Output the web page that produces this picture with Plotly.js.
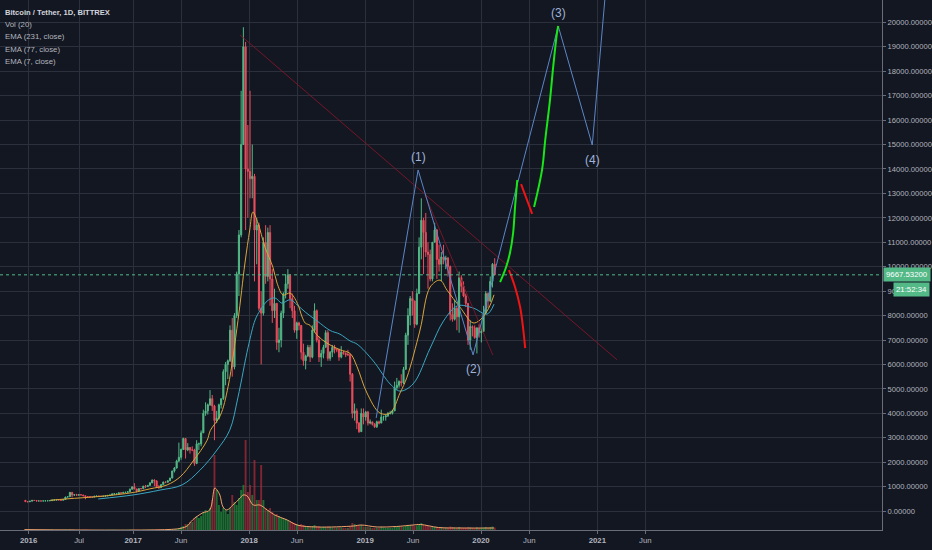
<!DOCTYPE html>
<html>
<head>
<meta charset="utf-8">
<script src="https://cdn.plot.ly/plotly-3.0.1.min.js"></script>
<style>
  html, body { margin: 0; padding: 0; background: #131722; }
  #chart { width: 932px; height: 550px; }
</style>
</head>
<body>
<div id="chart"></div>
<script>
// weekly candles, [open, high, low, close], weeks start 2016-01-25
const ohlc2016 = [
  [440, 450, 375, 385], [385, 400, 365, 380], [380, 408, 375, 405], [405, 445, 400, 438],
  [438, 442, 415, 432], [432, 440, 405, 412], [412, 420, 405, 415], [415, 420, 408, 412],
  [412, 418, 410, 416], [416, 424, 412, 420], [420, 424, 416, 421], [421, 430, 418, 427],
  [427, 452, 425, 450], [450, 468, 445, 455], [455, 465, 440, 460], [460, 462, 448, 455],
  [455, 458, 435, 442], [442, 475, 440, 472], [472, 580, 470, 575], [575, 595, 565, 585],
  [585, 780, 580, 765], [765, 770, 560, 660], [660, 690, 620, 670], [670, 705, 640, 650],
  [650, 680, 645, 665], [665, 680, 650, 660], [660, 660, 620, 625], [625, 628, 480, 590],
  [590, 600, 580, 585], [585, 590, 565, 578], [578, 585, 570, 575], [575, 612, 570, 605],
  [605, 630, 600, 610], [610, 612, 600, 608], [608, 612, 590, 600], [600, 612, 595, 610],
  [610, 620, 605, 617], [617, 645, 612, 640], [640, 660, 632, 655], [655, 720, 650, 700],
  [700, 740, 680, 705], [705, 740, 700, 705], [705, 755, 695, 745], [745, 755, 725, 735],
  [735, 770, 730, 765], [765, 775, 755, 770], [770, 795, 765, 790], [790, 925, 790, 890],
  [890, 1000, 885, 995]
];
const ohlc2017 = [
  [995, 1140, 890, 905], [905, 910, 760, 820], [820, 925, 815, 920], [920, 930, 890, 915],
  [915, 1030, 910, 1020], [1020, 1070, 940, 1000], [1000, 1060, 995, 1050], [1050, 1190, 1045, 1150],
  [1150, 1290, 1150, 1270], [1270, 1300, 1020, 1230], [1230, 1260, 940, 1000], [1000, 1060, 910, 960],
  [960, 1100, 955, 1080], [1080, 1200, 1075, 1190], [1190, 1210, 1140, 1180], [1180, 1250, 1170, 1240],
  [1240, 1360, 1235, 1350], [1350, 1650, 1340, 1640], [1640, 1800, 1580, 1760], [1760, 2100, 1740, 2050],
  [2050, 2800, 2000, 2200], [2200, 2560, 2100, 2520], [2520, 3000, 2500, 2970], [2970, 2990, 2150, 2500],
  [2500, 2780, 2450, 2600], [2600, 2620, 2350, 2500], [2500, 2650, 2450, 2500], [2500, 2550, 1850, 1950],
  [1950, 2900, 1920, 2750], [2750, 2800, 2500, 2750], [2750, 3300, 2650, 3200], [3200, 4150, 3200, 4000],
  [4000, 4450, 3900, 4100], [4100, 4400, 3950, 4350], [4350, 4950, 4300, 4600], [4600, 4750, 4100, 4300],
  [4300, 4350, 2900, 3700], [3700, 4100, 3600, 3800], [3800, 4400, 3750, 4350], [4350, 4600, 4200, 4600],
  [4600, 5800, 4550, 5700], [5700, 6100, 5150, 6000], [6000, 6200, 5400, 6150], [6150, 7600, 6100, 7400],
  [7400, 7900, 5500, 5900], [5900, 8100, 5800, 8000], [8000, 9800, 7900, 9700], [9700, 11500, 8800, 11300],
  [11300, 17200, 11200, 15000], [15000, 19800, 15000, 19000], [19000, 19200, 11500, 14000], [14000, 15800, 12000, 13900]
];
const ohlc2018 = [
  [13900, 17200, 12800, 13600], [13600, 15000, 12800, 13700], [13700, 13800, 9400, 11500], [11500, 12000, 10100, 11700],
  [11700, 11800, 8200, 8300], [8300, 9000, 6000, 8100], [8100, 11200, 8000, 11000], [11000, 11700, 9300, 9600],
  [9600, 11600, 9400, 11400], [11400, 11700, 8400, 9500], [9500, 9900, 7700, 8200], [8200, 9100, 7900, 8500],
  [8500, 8500, 6600, 6900], [6900, 7500, 6500, 7000], [7000, 8200, 6700, 8100], [8100, 8950, 7900, 8900],
  [8900, 9700, 8700, 9300], [9300, 9900, 9100, 9650], [9650, 9700, 8300, 8700], [8700, 8900, 7900, 8200],
  [8200, 8400, 7300, 7400], [7400, 7750, 7050, 7700], [7700, 7750, 7400, 7600], [7600, 7600, 6200, 6500],
  [6500, 6850, 5950, 6150], [6150, 6400, 5800, 6350], [6350, 6800, 6300, 6700], [6700, 6800, 6100, 6300],
  [6300, 7600, 6250, 7400], [7400, 8500, 7300, 8200], [8200, 8250, 6900, 7000], [7000, 7150, 6100, 6300],
  [6300, 6600, 5900, 6450], [6450, 6800, 6250, 6700], [6700, 7400, 6700, 7300], [7300, 7400, 6150, 6250],
  [6250, 6550, 6150, 6500], [6500, 6800, 6300, 6700], [6700, 6800, 6450, 6600], [6600, 6650, 6500, 6600],
  [6600, 6650, 6150, 6300], [6300, 6750, 6250, 6500], [6500, 6550, 6400, 6450], [6450, 6500, 6300, 6400],
  [6400, 6600, 6350, 6400], [6400, 6450, 5300, 5600], [5600, 5650, 3800, 4000], [4000, 4400, 3700, 4100],
  [4100, 4200, 3350, 3600], [3600, 3650, 3200, 3250], [3250, 4200, 3250, 4000], [4000, 4200, 3550, 3850],
  [3850, 4100, 3700, 4050]
];
const ohlc2019 = [
  [4050, 4100, 3500, 3600], [3600, 3750, 3550, 3650], [3650, 3650, 3500, 3550], [3550, 3600, 3400, 3450],
  [3450, 3700, 3400, 3650], [3650, 3700, 3550, 3600], [3600, 4150, 3600, 3850], [3850, 3900, 3700, 3850],
  [3850, 3950, 3700, 3900], [3900, 4050, 3850, 4000], [4000, 4100, 3950, 4000], [4000, 4150, 3950, 4100],
  [4100, 5300, 4100, 5050], [5050, 5450, 4950, 5150], [5150, 5350, 5050, 5300], [5300, 5600, 5100, 5250],
  [5250, 5900, 5200, 5800], [5800, 7300, 5800, 7200], [7200, 8300, 6800, 8000], [8000, 8800, 7600, 8700],
  [8700, 9000, 8000, 8600], [8600, 8600, 7500, 7650], [7650, 9100, 7600, 8900], [8900, 11200, 8900, 10800],
  [10800, 12800, 10300, 11900], [11900, 12000, 9700, 11400], [11400, 12200, 10400, 10600], [10600, 11000, 9100, 10500],
  [10500, 10700, 9400, 9500], [9500, 11000, 9400, 11000], [11000, 11800, 11000, 11500], [11500, 11550, 9500, 10300],
  [10300, 10900, 9800, 10100], [10100, 10600, 9400, 10400], [10400, 10900, 10100, 10300], [10300, 10450, 9900, 10350],
  [10350, 10400, 9600, 10000], [10000, 10050, 7800, 8050], [8050, 8500, 7750, 7850], [7850, 8650, 7800, 8300],
  [8300, 8400, 7400, 7950], [7950, 9800, 7300, 9550], [9550, 9650, 8950, 9200], [9200, 9400, 8750, 8800],
  [8800, 8900, 8350, 8500], [8500, 8500, 6800, 7000], [7000, 7800, 6600, 7550], [7550, 7600, 7150, 7500],
  [7500, 7600, 7050, 7100], [7100, 7500, 6450, 7500], [7500, 7650, 7100, 7300], [7300, 7500, 6900, 7350]
];
const ohlc2020 = [
  [7350, 8400, 7350, 8100], [8100, 9000, 8100, 8900], [8900, 8950, 8300, 8600],
  [8600, 9600, 8550, 9400], [9400, 10150, 9150, 10100], [10100, 10350, 9650, 9667.532]
];

// volume per week (M USDT, daily average)
const vol2016 = [0.4, 0.3, 0.3, 0.4, 0.3, 0.3, 0.2, 0.2, 0.2, 0.2, 0.2, 0.2, 0.3, 0.3, 0.2, 0.2, 0.2, 0.3, 0.5, 0.4,
  0.8, 0.9, 0.5, 0.4, 0.3, 0.3, 0.3, 0.6, 0.3, 0.2, 0.2, 0.2, 0.2, 0.2, 0.2, 0.2, 0.2, 0.3, 0.3, 0.4,
  0.4, 0.3, 0.3, 0.3, 0.3, 0.3, 0.3, 0.4, 0.5];
const vol2017 = [0.6, 0.5, 0.4, 0.3, 0.4, 0.4, 0.4, 0.5, 0.5, 0.6, 0.7, 0.5, 0.4, 0.4, 0.4, 0.4, 0.5,
  0.6, 0.8, 1.2, 2, 3, 4, 6, 6, 8, 8, 12, 14, 12, 14, 18, 20, 18, 22, 30, 75, 40, 25,
  18, 22, 20, 16, 22, 35, 28, 25, 32, 40, 45, 90, 38];
const vol2018 = [45, 35, 70, 30, 30, 65, 30, 22, 20, 22, 18, 15, 16, 14, 12, 12, 11, 10, 9, 8, 7, 6,
  5, 6, 5, 4, 3.5, 3, 4, 5, 4, 3.5, 3, 3, 3, 3.5, 3, 2.5, 2.5, 2.5, 2.5, 2.5, 2, 2,
  2, 4, 7, 6, 5, 4.5, 5, 3.5, 3];
const vol2019 = [3, 2.5, 2, 2, 2, 2, 3, 2.5, 2, 2, 2, 2, 4, 3.5, 3, 3, 3, 4, 5, 5, 4.5,
  4, 4.5, 6, 7, 5, 4.5, 4, 3, 3, 3, 3, 2.5, 2.5, 2, 2, 2, 3.5, 3, 2.5, 2, 3, 2.5,
  2, 2, 3, 2.5, 2, 2, 2.5, 2, 2];
const vol2020 = [2.5, 3, 2.5, 3, 3.5, 2.5];

const volMaDates = ['2016-01-25', '2017-05-01', '2017-06-04', '2017-06-20', '2017-07-07', '2017-08-07', '2017-08-30',
  '2017-09-15', '2017-09-22', '2017-10-01', '2017-10-11', '2017-10-23', '2017-11-11', '2017-12-04', '2017-12-13',
  '2017-12-26', '2018-01-14', '2018-02-04', '2018-02-27', '2018-03-23', '2018-05-01', '2018-06-01', '2018-08-04',
  '2018-11-26', '2018-12-19', '2019-02-08', '2019-04-10', '2019-06-01', '2019-06-25', '2019-08-20', '2019-11-01',
  '2020-02-11'];
const volMaValues = [0.4, 0.6, 2, 4, 10, 17, 20, 42, 40, 35, 23, 20, 25, 32, 35, 34, 25, 25, 20, 15, 10, 5, 3, 4, 5,
  3, 3.5, 5, 5.5, 2.5, 2, 2];

const ema77Dates = ['2016-04-15', '2016-06-07', '2016-09-19', '2017-01-01', '2017-02-23', '2017-04-18', '2017-05-29',
  '2017-07-09', '2017-08-22', '2017-09-01', '2017-10-02', '2017-10-27', '2017-11-27', '2017-12-19', '2018-01-03',
  '2018-01-13', '2018-01-29', '2018-02-20', '2018-03-17', '2018-03-30', '2018-04-18', '2018-05-10', '2018-06-02',
  '2018-06-17', '2018-06-27', '2018-07-12', '2018-08-03', '2018-09-03', '2018-10-14', '2018-11-15', '2018-12-07',
  '2019-01-07', '2019-02-17', '2019-03-21', '2019-04-21', '2019-05-13', '2019-06-23', '2019-07-25', '2019-08-25',
  '2019-09-16', '2019-10-27', '2019-12-07', '2019-12-29', '2020-01-25', '2020-02-11'];
const ema77Values = [440, 500, 600, 760, 910, 1070, 1400, 2050, 2900, 3300, 3900, 5100, 7800, 10150, 11500, 12240,
  11780, 10800, 9980, 9330, 8840, 8920, 8500, 7940, 7690, 7600, 7200, 6870, 6600, 6450, 5900, 4830, 4010, 4010,
  4830, 5480, 7410, 9170, 9450, 9040, 8340, 7700, 7820, 8300, 8850];

const ema231Dates = ['2016-09-13', '2017-01-01', '2017-03-27', '2017-06-04', '2017-07-31', '2017-09-22', '2017-11-01',
  '2017-11-27', '2017-12-29', '2018-01-20', '2018-02-05', '2018-03-02', '2018-03-24', '2018-04-14', '2018-05-10',
  '2018-06-02', '2018-06-27', '2018-08-03', '2018-09-13', '2018-10-14', '2018-11-15', '2018-12-07', '2019-01-27',
  '2019-03-21', '2019-04-21', '2019-06-01', '2019-07-25', '2019-09-05', '2019-10-19', '2019-12-07', '2020-01-20',
  '2020-02-11'];
const ema231Values = [495, 660, 860, 1070, 1680, 2500, 3310, 4660, 6710, 7820, 8220, 8630, 8720, 8510, 8650, 8430,
  8140, 7780, 7390, 7240, 6960, 6830, 6140, 5200, 4910, 5200, 6670, 7780, 8400, 8310, 8060, 8470];

// drawings
const waveDates = ['2019-02-05', '2019-06-17', '2019-12-07', '2020-08-31', '2020-12-16', '2021-02-10'];
const wavePrices = [3810, 13960, 6390, 19850, 14980, 23380];
const waveLabels = ['(1)', '(2)', '(3)', '(4)'];

const trendDates = ['2017-12-04', '2021-03-04'];
const trendPrices = [19480, 6190];
const trend2Dates = ['2019-07-09', '2020-02-07'];
const trend2Prices = [12920, 6390];

const upPath1Dates = ['2020-03-01', '2020-03-20', '2020-04-01', '2020-04-11', '2020-04-17', '2020-04-24'];
const upPath1Prices = [9370, 9990, 10560, 11380, 12440, 13550];
const downPath1Dates = ['2020-03-29', '2020-04-17', '2020-05-03', '2020-05-12', '2020-05-19'];
const downPath1Prices = [9860, 9170, 8350, 7530, 6670];
const downPath2Dates = ['2020-05-06', '2020-06-10'];
const downPath2Prices = [13380, 12160];
const upPath2Dates = ['2020-06-16', '2020-07-11', '2020-07-21', '2020-08-05', '2020-08-15', '2020-08-27', '2020-08-31'];
const upPath2Prices = [12440, 13960, 15180, 16820, 18170, 19560, 19850];

const lastPrice = 9667.532;
const lastTime = '21:52:34';

const tickDates = ['2016-02-07', '2016-07-15', '2017-01-01', '2017-06-01', '2018-01-01', '2018-06-01',
  '2019-01-01', '2019-06-01', '2020-01-01', '2020-06-01', '2021-01-01', '2021-06-01'];
const tickLabels = ['<b>2016</b>', 'Jul', '<b>2017</b>', 'Jun', '<b>2018</b>', 'Jun',
  '<b>2019</b>', 'Jun', '<b>2020</b>', 'Jun', '<b>2021</b>', 'Jun'];

const legendLines = ['Bitcoin / Tether, 1D, BITTREX', 'Vol (20)', 'EMA (231, close)', 'EMA (77, close)', 'EMA (7, close)'];

// ---------------------------------------------------------------
const weeks = [].concat(ohlc2016, ohlc2017, ohlc2018, ohlc2019, ohlc2020);
const volumes = [].concat(vol2016, vol2017, vol2018, vol2019, vol2020);

const DAY = 86400000;
const firstWeek = Date.UTC(2016, 0, 25);
const dates = weeks.map((w, i) => new Date(firstWeek + (i * 7 + 3) * DAY).toISOString().slice(0, 10));

const UP = '#53b987';
const DOWN = '#eb4d5c';
const FONT = 'Liberation Sans, Arial, sans-serif';

const volColors = weeks.map((w) => (w[3] >= w[0] ? 'rgba(34,139,58,0.75)' : 'rgba(190,45,60,0.65)'));

const volTrace = {
  type: 'bar',
  x: dates,
  y: volumes,
  yaxis: 'y2',
  width: 7 * DAY * 0.85,
  marker: { color: volColors, line: { width: 0 } },
  hoverinfo: 'skip',
};

const volMaTrace = {
  type: 'scatter',
  mode: 'lines',
  x: volMaDates,
  y: volMaValues,
  yaxis: 'y2',
  line: { color: '#f2a26b', width: 1, shape: 'spline' },
  hoverinfo: 'skip',
};

const candles = {
  type: 'candlestick',
  x: dates,
  open: weeks.map((w) => w[0]),
  high: weeks.map((w) => w[1]),
  low: weeks.map((w) => w[2]),
  close: weeks.map((w) => w[3]),
  increasing: { line: { color: UP, width: 1 }, fillcolor: UP },
  decreasing: { line: { color: DOWN, width: 1 }, fillcolor: DOWN },
  whiskerwidth: 0,
  hoverinfo: 'skip',
};

const ema231Trace = {
  type: 'scatter', mode: 'lines', x: ema231Dates, y: ema231Values,
  line: { color: '#3aa7c2', width: 1, shape: 'spline' }, hoverinfo: 'skip',
};
const ema77Trace = {
  type: 'scatter', mode: 'lines', x: ema77Dates, y: ema77Values,
  line: { color: '#d9a53c', width: 1, shape: 'spline' }, hoverinfo: 'skip',
};

const lineTrace = (x, y, color, width, shape) => ({
  type: 'scatter', mode: 'lines', x: x, y: y,
  line: { color: color, width: width, shape: shape || 'linear' },
  hoverinfo: 'skip', cliponaxis: true,
});

const traces = [
  volTrace,
  volMaTrace,
  ema231Trace,
  ema77Trace,
  candles,
  lineTrace(trendDates, trendPrices, 'rgba(135,22,42,0.85)', 1),
  lineTrace(trend2Dates, trend2Prices, 'rgba(135,22,42,0.85)', 1),
  lineTrace(waveDates, wavePrices, '#5b86c8', 1),
  lineTrace(upPath1Dates, upPath1Prices, '#19e619', 2, 'spline'),
  lineTrace(downPath1Dates, downPath1Prices, '#f01414', 2, 'spline'),
  lineTrace(downPath2Dates, downPath2Prices, '#f01414', 2),
  lineTrace(upPath2Dates, upPath2Prices, '#19e619', 2, 'spline'),
];

const annotations = [];

legendLines.forEach((t, i) => {
  annotations.push({
    xref: 'paper', yref: 'paper', x: 0, y: 1, xanchor: 'left', yanchor: 'middle',
    xshift: 3, yshift: -12.3 - i * 12.3, showarrow: false,
    text: i === 0 ? '<b>' + t + '</b>' : t,
    font: { family: FONT, size: i === 0 ? 7.6 : 7.8, color: i === 0 ? '#d1d4dc' : '#b2b5be' },
  });
});

const labelShift = [4, -5, 4, -6];
waveLabels.forEach((t, i) => {
  annotations.push({
    x: waveDates[i + 1], y: wavePrices[i + 1], xref: 'x', yref: 'y',
    yshift: labelShift[i], yanchor: labelShift[i] > 0 ? 'bottom' : 'top',
    showarrow: false, text: t,
    font: { family: FONT, size: 12, color: '#9fb3d8' },
  });
});

// last price and countdown boxes on the price scale
annotations.push({
  xref: 'paper', yref: 'y', x: 1, y: lastPrice, xanchor: 'left', yanchor: 'middle', xshift: 1,
  showarrow: false, text: lastPrice.toFixed(5), bgcolor: UP, borderpad: 2,
  font: { family: FONT, size: 7.8, color: '#ffffff' },
});
annotations.push({
  xref: 'paper', yref: 'y', x: 1, y: lastPrice, xanchor: 'left', yanchor: 'middle', xshift: 11, yshift: -15,
  showarrow: false, text: lastTime, bgcolor: UP, borderpad: 2,
  font: { family: FONT, size: 7.8, color: '#ffffff' },
});

const layout = {
  width: 932,
  height: 550,
  margin: { l: 0, r: 50, t: 0, b: 20 },
  paper_bgcolor: '#131722',
  plot_bgcolor: '#131722',
  showlegend: false,
  hovermode: false,
  font: { family: FONT, color: '#b2b5be', size: 8 },
  xaxis: {
    type: 'date',
    range: ['2015-11-09', '2023-06-16'],
    rangeslider: { visible: false },
    tickvals: tickDates,
    ticktext: tickLabels,
    showgrid: true,
    gridcolor: '#2c303c',
    gridwidth: 1,
    zeroline: false,
    showline: true,
    linecolor: '#6a6d78',
    linewidth: 1,
    ticks: 'outside',
    ticklen: 3,
    tickcolor: '#6a6d78',
    tickfont: { family: FONT, size: 7.8, color: '#b2b5be' },
    fixedrange: true,
  },
  yaxis: {
    side: 'right',
    range: [-775, 20915],
    dtick: 1000,
    tick0: 0,
    tickformat: '.5f',
    showgrid: true,
    gridcolor: '#2c303c',
    gridwidth: 1,
    zeroline: false,
    showline: true,
    linecolor: '#6a6d78',
    linewidth: 1,
    ticks: 'outside',
    ticklen: 3,
    tickcolor: '#6a6d78',
    tickfont: { family: FONT, size: 7.6, color: '#b2b5be' },
    fixedrange: true,
  },
  yaxis2: {
    overlaying: 'y',
    range: [0, 530],
    visible: false,
    fixedrange: true,
  },
  shapes: [
    {
      type: 'line', xref: 'paper', yref: 'y', x0: 0, x1: 1, y0: lastPrice, y1: lastPrice,
      line: { color: '#53b987', width: 1, dash: 'dot' },
    },
  ],
  annotations: annotations,
};

Plotly.newPlot('chart', traces, layout, { displayModeBar: false, staticPlot: true });
</script>
</body>
</html>
